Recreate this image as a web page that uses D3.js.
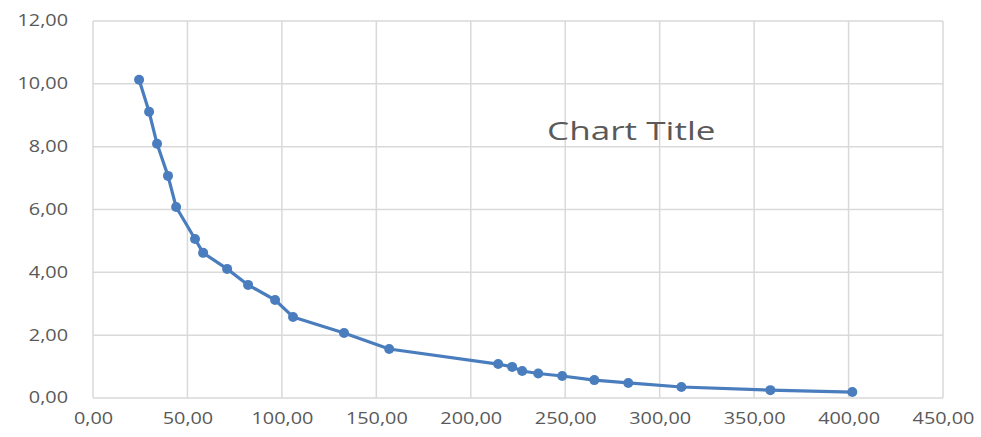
<!DOCTYPE html>
<html>
<head>
<meta charset="utf-8">
<script src="https://cdn.jsdelivr.net/npm/d3@7"></script>
<style>
  html, body { margin: 0; padding: 0; background: #fff; }
  svg { display: block; font-family: "Open Sans", "Liberation Sans", sans-serif; }
</style>
</head>
<body>
<div id="chart"></div>
<script>
const xValues = [24.4, 29.7, 33.9, 39.7, 44.0, 54.0, 58.3, 71.0, 82.1, 96.4, 105.9, 132.9, 156.8,
  214.5, 221.9, 227.2, 235.7, 248.4, 265.4, 283.4, 311.5, 358.6, 402.0];
const yValues = [10.13, 9.11, 8.09, 7.07, 6.08, 5.06, 4.62, 4.11, 3.60, 3.12, 2.58, 2.07, 1.56,
  1.08, 0.99, 0.86, 0.78, 0.70, 0.57, 0.48, 0.35, 0.25, 0.19];
const xTicks = [0, 50, 100, 150, 200, 250, 300, 350, 400, 450];
const yTicks = [0, 2, 4, 6, 8, 10, 12];
const chartTitle = "Chart Title";

const width = 981, height = 437;
const margin = { top: 21, right: 38, bottom: 39, left: 93 };
const innerW = width - margin.left - margin.right;
const innerH = height - margin.top - margin.bottom;

const fmt = v => d3.format(".2f")(v).replace(".", ",");

// the source image is stretched sideways, so widen the text a bit
const stretch = (sel, k) => sel.each(function() {
  const w = this.getComputedTextLength();
  d3.select(this).attr("textLength", w * k).attr("lengthAdjust", "spacingAndGlyphs");
});

const svg = d3.select("#chart").append("svg")
  .attr("width", width)
  .attr("height", height);

const g = svg.append("g")
  .attr("transform", `translate(${margin.left},${margin.top})`);

const x = d3.scaleLinear().domain([0, 450]).range([0, innerW]);
const y = d3.scaleLinear().domain([0, 12]).range([innerH, 0]);

// gridlines
g.append("g")
  .selectAll("line")
  .data(yTicks)
  .join("line")
  .attr("x1", 0).attr("x2", innerW)
  .attr("y1", d => y(d)).attr("y2", d => y(d))
  .attr("stroke", "#d9d9d9").attr("stroke-width", 1.5);

g.append("g")
  .selectAll("line")
  .data(xTicks)
  .join("line")
  .attr("y1", 0).attr("y2", innerH)
  .attr("x1", d => x(d)).attr("x2", d => x(d))
  .attr("stroke", "#d9d9d9").attr("stroke-width", 1.5);

// axes (labels only)
const xAxis = g.append("g")
  .attr("transform", `translate(0,${innerH})`)
  .call(d3.axisBottom(x).tickValues(xTicks).tickFormat(fmt).tickSize(0).tickPadding(15));
const yAxis = g.append("g")
  .call(d3.axisLeft(y).tickValues(yTicks).tickFormat(fmt).tickSize(0).tickPadding(25));

[xAxis, yAxis].forEach(a => {
  a.select(".domain").remove();
  a.selectAll("text")
    .attr("fill", "#595959")
    .style("font-size", "15.5px")
    .style("font-family", "\"Open Sans\", \"Liberation Sans\", sans-serif")
    .call(stretch, 1.28);
});

const pts = xValues.map((v, i) => ({ x: v, y: yValues[i] }));

g.append("path")
  .datum(pts)
  .attr("fill", "none")
  .attr("stroke", "#4a7dbd")
  .attr("stroke-width", 3.2)
  .attr("stroke-linejoin", "round")
  .attr("d", d3.line().x(d => x(d.x)).y(d => y(d.y)));

g.selectAll("circle")
  .data(pts)
  .join("circle")
  .attr("cx", d => x(d.x))
  .attr("cy", d => y(d.y))
  .attr("r", 5)
  .attr("fill", "#4a7dbd");

// title
g.append("text")
  .attr("x", x(285))
  .attr("y", y(8.22))
  .attr("text-anchor", "middle")
  .attr("fill", "#595959")
  .style("font-size", "26px")
  .text(chartTitle)
  .call(stretch, 1.35);
</script>
</body>
</html>
